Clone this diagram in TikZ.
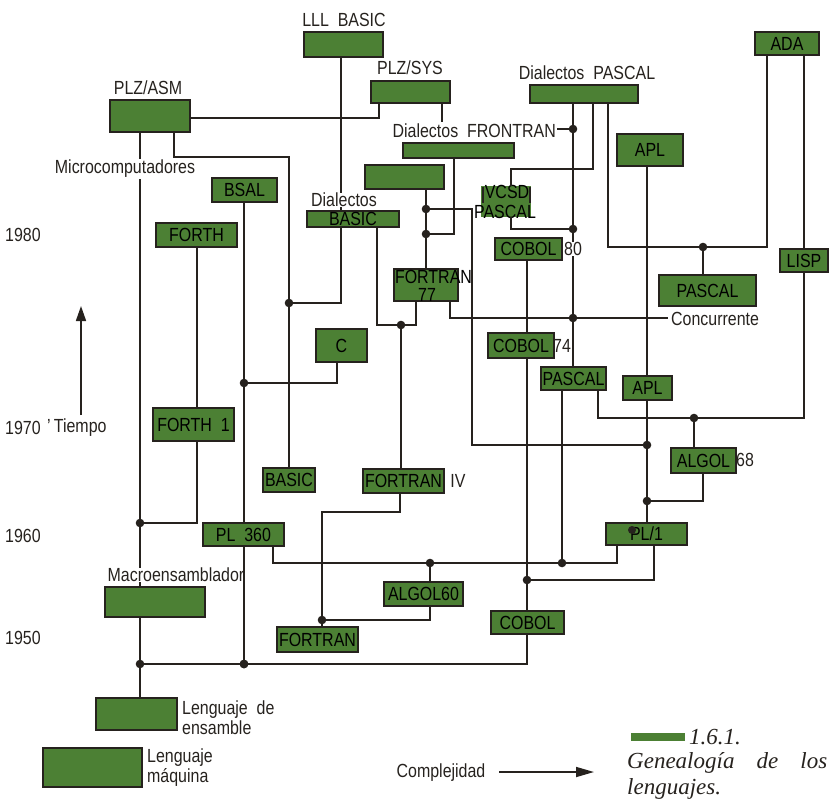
\documentclass[tikz,border=0pt]{standalone}
\usepackage{fontspec}
\setmainfont{Liberation Sans}[FakeStretch=0.84]
\newfontfamily\legendfont{Liberation Serif}
\usetikzlibrary{arrows.meta}
\definecolor{boxgreen}{RGB}{76,128,52}
\definecolor{ink}{RGB}{38,34,30}
\tikzset{
  gbox/.style={draw=ink, line width=2.2pt, fill=boxgreen, inner sep=0pt,
    font=\fontsize{19}{19}\selectfont, text=black},
  conn/.style={draw=ink, line width=1.7pt},
  lbl/.style={font=\fontsize{19}{20}\selectfont, text=ink, inner sep=1pt},
  legend/.style={font=\legendfont\itshape\fontsize{23}{25}\selectfont, text=ink, inner sep=0pt}
}
% green box from its corners: name, x1, y1, x2, y2, text
\newcommand\gb[6]{\node[gbox, minimum width={(#4-#2)*1pt}, minimum height={(#5-#3)*1pt}]
  (#1) at ({(#2+#4)/2},{(#3+#5)/2}) {#6};}
\newcommand\jn[1]{\fill[ink] (#1) circle[radius=4.3pt];}

\begin{document}
\begin{tikzpicture}[x=1pt,y=-1pt]
\useasboundingbox (0,0) rectangle (833,807);

% ---------- language boxes ----------
\gb{lll}{304}{32}{383}{57}{}
\gb{plzasm}{110}{100}{190}{132}{}
\gb{plzsys}{371}{81}{450}{103}{}
\gb{dpascal}{530}{85}{638}{103}{}
\gb{ada}{755}{32}{819}{55}{ADA}
\gb{dfort}{403}{143}{514}{158}{}
\gb{aplT}{617}{134}{683}{166}{APL}
\gb{blank}{365}{165}{444}{189}{}
\gb{bsal}{212}{178}{277}{202}{BSAL}
\gb{dbasic}{307}{211}{399}{227}{BASIC}
\gb{forth}{156}{223}{237}{247}{FORTH}
\gb{cobol80}{495}{238}{562}{260}{COBOL}
\gb{lisp}{780}{249}{828}{272}{LISP}
\gb{f77}{394}{269}{458}{301}{}
\gb{pconc}{659}{275}{756}{306}{PASCAL}
\gb{c}{316}{329}{367}{362}{C}
\gb{cobol74}{488}{333}{554}{358}{COBOL}
\gb{pascal}{541}{367}{606}{390}{PASCAL}
\gb{aplB}{623}{376}{672}{400}{APL}
\gb{forthone}{153}{408}{234}{441}{FORTH\ \ 1}
\gb{algol68}{671}{448}{736}{473}{ALGOL}
\gb{basic}{263}{468}{315}{492}{BASIC}
\gb{fiv}{363}{469}{444}{493}{FORTRAN}
\gb{pl360}{203}{523}{284}{546}{PL\ \ 360}
\gb{pl1}{606}{523}{687}{545}{PL/1}
\gb{algol60}{384}{582}{463}{606}{ALGOL60}
\gb{macro}{105}{587}{205}{617}{}
\gb{cobol}{491}{611}{564}{634}{COBOL}
\gb{fortran}{277}{627}{358}{652}{FORTRAN}
\gb{ensamble}{96}{698}{177}{730}{}
\gb{maquina}{43}{748}{142}{787}{}

% VCSD PASCAL: open green patch with side bars
\node[fill=boxgreen, inner sep=0pt, minimum width=50pt, minimum height=31pt] (vcsd) at (506,201.5) {};
\draw[ink, line width=1.6pt] (483,187) -- (483,203) (530,187) -- (530,203);
\node[lbl, text=black, inner sep=0pt] (vcsdA) at (507,192) {VCSD};
\node[lbl, text=black, inner sep=0pt] (vcsdB) at (505,211.5) {PASCAL};

% FORTRAN 77 text runs past its box
\node[lbl, text=black, inner sep=0pt] (f77A) at (433.5,276.5) {FORTRAN};
\node[lbl, text=black, inner sep=0pt] (f77B) at (427,294.5) {77};

% blot on the PL/1 box
\fill[ink] (632,530) circle[radius=4pt];

% ---------- junctions ----------
\coordinate (dA) at (140,523);
\coordinate (dB) at (140,664);
\coordinate (dC) at (244,664);
\coordinate (dD) at (244,383);
\coordinate (dE) at (289,303);
\coordinate (dF) at (401,325);
\coordinate (dG) at (426,209);
\coordinate (dH) at (426,234);
\coordinate (dI) at (573,129);
\coordinate (dJ) at (573,229);
\coordinate (dK) at (573,318);
\coordinate (dL) at (703,247);
\coordinate (dM) at (694,418);
\coordinate (dN) at (647,445);
\coordinate (dO) at (647,501);
\coordinate (dP) at (430,563);
\coordinate (dQ) at (562,563);
\coordinate (dR) at (527,580);
\coordinate (dS) at (322,620);

% ---------- corners ----------
\coordinate (c2) at (379,118);
\coordinate (c3) at (442,122);
\coordinate (c5) at (174,157);
\coordinate (c6) at (341,303);
\coordinate (c8) at (337,383);
\coordinate (c10) at (197,523);
\coordinate (c13) at (527,664);
\coordinate (c15) at (654,580);
\coordinate (c16a) at (273,563);
\coordinate (c16b) at (617,563);
\coordinate (c18) at (430,620);
\coordinate (c19a) at (400,512);
\coordinate (c19b) at (322,512);
\coordinate (c21a) at (377,325);
\coordinate (c21b) at (416,325);
\coordinate (c23) at (454,234);
\coordinate (c24a) at (472,209);
\coordinate (c24b) at (472,445);
\coordinate (c25a) at (450,318);
\coordinate (c25b) at (668,318);
\coordinate (c28a) at (593,169);
\coordinate (c28b) at (511,169);
\coordinate (c29) at (511,229);
\coordinate (c30a) at (608,247);
\coordinate (c30b) at (767,247);
\coordinate (c33a) at (804,418);
\coordinate (c33b) at (598,418);
\coordinate (c37) at (703,501);

% ---------- connectors ----------
\draw[conn] (lll.south -| c6) -- (dbasic.north -| c6);
\draw[conn] (plzasm.east |- c2) -- (c2) -- (plzsys.south -| c2);
\draw[conn] (plzsys.south -| c3) -- (c3);
\draw[conn] (plzasm.south -| dA) -- (dA) -- (macro.north -| dA);
\draw[conn] (plzasm.south -| c5) -- (c5) -| (basic.north);
\draw[conn] (dbasic.south -| c6) -- (c6) -- (dE);
\draw[conn] (bsal.south -| dD) -- (dD) -- (pl360.north -| dD);
\draw[conn] (c.south -| c8) -- (c8) -- (dD);
\draw[conn] (forth.south -| c10) -- (forthone.north -| c10);
\draw[conn] (forthone.south -| c10) -- (c10) -- (dA);
\draw[conn] (macro.south -| dB) -- (dB) -- (ensamble.north -| dB);
\draw[conn] (dB) -- (c13) -- (cobol.south -| c13);
\draw[conn] (cobol80.south -| dR) -- (cobol74.north -| dR);
\draw[conn] (cobol74.south -| dR) -- (dR) -- (cobol.north -| dR);
\draw[conn] (pl1.south -| c15) -- (c15) -- (dR);
\draw[conn] (pl360.south -| c16a) -- (c16a) -- (c16b) -- (pl1.south -| c16b);
\draw[conn] (dP) -- (algol60.north -| dP);
\draw[conn] (algol60.south -| c18) -- (c18) -- (dS);
\draw[conn] (fiv.south -| c19a) -- (c19a) -- (c19b) -- (dS) -- (fortran.north -| dS);
\draw[conn] (dF) -- (fiv.north -| dF);
\draw[conn] (dbasic.south -| c21a) -- (c21a) -- (c21b) -- (f77.south -| c21b);
\draw[conn] (blank.south -| dG) -- (f77.north -| dG);
\draw[conn] (dfort.south -| c23) -- (c23) -- (dH);
\draw[conn] (dG) -- (c24a) -- (c24b) -- (dN);
\draw[conn] (f77.south -| c25a) -- (c25a) -- (c25b);
\draw[conn] (dpascal.south -| dI) -- (pascal.north -| dI);
\draw[conn] (dpascal.south -| c28a) -- (c28a) -- (c28b) -- (vcsd.north -| c28b);
\draw[conn] (vcsd.south -| c29) -- (c29) -- (dJ);
\draw[conn] (dpascal.south -| c30a) -- (c30a) -- (c30b) -- (ada.south -| c30b);
\draw[conn] (dL) -- (pconc.north -| dL);
\draw[conn] (ada.south -| lisp.north) -- (lisp.north);
\draw[conn] (lisp.south) -- (c33a) -- (c33b) -- (pascal.south -| c33b);
\draw[conn] (dM) -- (algol68.north -| dM);
\draw[conn] (aplT.south -| dN) -- (aplB.north -| dN);
\draw[conn] (aplB.south -| dN) -- (dN) -- (dO) -- (pl1.north -| dO);
\draw[conn] (algol68.south -| c37) -- (c37) -- (dO);
\draw[conn] (pascal.south -| dQ) -- (dQ);

\foreach \j in {dA,dB,dC,dD,dE,dF,dG,dH,dI,dJ,dK,dL,dM,dN,dO,dP,dQ,dR,dS} {\jn{\j}}

% ---------- labels ----------
\node[lbl] (tlll) at (344,20) {LLL\ \ BASIC};
\node[lbl] (tplzasm) at (148,88) {PLZ/ASM};
\node[lbl] (tplzsys) at (410,68) {PLZ/SYS};
\node[lbl] (tdpascal) at (587,73) {Dialectos\ \ PASCAL};
\node[lbl, anchor=east] (tdfort) at (557,131) {Dialectos\ \ FRONTRAN};
\draw[conn] (tdfort.east |- dI) -- (dI);
\node[lbl, fill=white] (tmicro) at (125,169) {Microcomputadores};
\node[lbl, fill=white, inner sep=0pt] (tdbasic) at (344,200) {Dialectos};
\node[lbl, fill=white, inner sep=0pt] (t80) at (573,249) {80};
\node[lbl] (t74) at (562,346) {74};
\node[lbl, anchor=west] (tconc) at (670,319) {Concurrente};
\node[lbl] (t68) at (745,460) {68};
\node[lbl] (tiv) at (458,481) {IV};
\node[lbl, fill=white, inner sep=0pt] (tmacro) at (176,575) {Macroensamblador};
\draw[conn] (pl360.south -| dC) -- (dC);
\jn{dC}
\node[lbl, anchor=west, align=left] (tens) at (181,718) {Lenguaje\ \ de\\ensamble};
\node[lbl, anchor=west, align=left] (tmaq) at (146,768) {Lenguaje\\máquina};

% time axis
\node[lbl] (y80) at (23,235) {1980};
\node[lbl] (y70) at (23,428) {1970};
\node[lbl] (y60) at (23,536) {1960};
\node[lbl] (y50) at (23,638) {1950};
\node[lbl, anchor=west] (ttiempo) at (46,428) {'\,Tiempo};
\coordinate (tA) at (81,415);
\coordinate (tB) at (81,306);
\draw[conn, -{Triangle[length=15pt,width=10pt]}] (tA) -- (tB);

% complexity axis
\node[lbl] (tcompl) at (441,773) {Complejidad};
\coordinate (kA) at (499,772);
\coordinate (kB) at (594,772);
\draw[conn, -{Triangle[length=18pt,width=10pt]}] (kA) -- (kB);

% caption
\fill[boxgreen] (631,733) rectangle (685,741);
\node[legend, anchor=west] (cap1) at (689,737) {1.6.1.};
\node[legend, anchor=west] (cap2) at (627,763) {\makebox[200pt][s]{Genealogía de los}};
\node[legend, anchor=west] (cap3) at (627,789) {lenguajes.};
\end{tikzpicture}
\end{document}
